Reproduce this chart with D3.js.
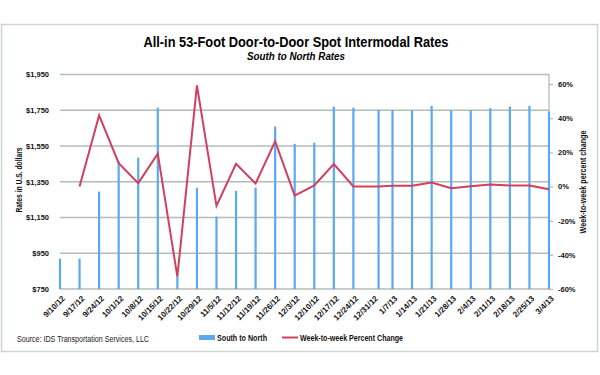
<!DOCTYPE html>
<html>
<head>
<meta charset="utf-8">
<script src="https://cdn.jsdelivr.net/npm/d3@7"></script>
<style>
  body { margin: 0; background: #fff; }
  text { font-family: "Liberation Sans", Arial, sans-serif; }
</style>
</head>
<body>
<div class="chart"></div>
<script>
// weekly spot rates, south to north lane
var dates = ["9/10/12","9/17/12","9/24/12","10/1/12","10/8/12","10/15/12","10/22/12","10/29/12",
  "11/5/12","11/12/12","11/19/12","11/26/12","12/3/12","12/10/12","12/17/12","12/24/12","1/2/13",
  "1/7/13","1/14/13","1/21/13","1/28/13","2/4/13","2/11/13","2/18/13","2/25/13","3/4/13"];
var rates = [920, 920, 1295, 1465, 1485, 1765, 820, 1316, 1155, 1299, 1317, 1659, 1562, 1568,
  1771, 1764, 1753, 1751, 1751, 1775, 1751, 1751, 1762, 1771, 1775, 1743];
var pctChange = [null, 0, 41.6, 13.7, 2, 19.2, -52.8, 59.2, -11.3, 13.3, 1.8, 26.4, -5.3, 0.6,
  13.1, 0, 0, 0.4, 0.4, 2.3, -1, 0.2, 1.2, 0.6, 0.6, -1.6];

var tickLabels = ["9/10/12","9/17/12","9/24/12","10/1/12","10/8/12","10/15/12","10/22/12","10/29/12",
  "11/5/12","11/12/12","11/19/12","11/26/12","12/3/12","12/10/12","12/17/12","12/24/12","12/31/12",
  "1/7/13","1/14/13","1/21/13","1/28/13","2/4/13","2/11/13","2/18/13","2/25/13","3/4/13"];
var rateTicks = [750, 950, 1150, 1350, 1550, 1750, 1950];
var pctTicks = [-60, -40, -20, 0, 20, 40, 60];

var W = 600, H = 375;
var plotL = 60, plotR = 549, plotT = 74.5, plotB = 289;
var gridColor = "#b3bdb8";
var barColor = "#5ba9f2", lineColor = "#d1405e";

var parse = d3.timeParse("%m/%d/%y");

var svg = d3.select(".chart").append("svg")
  .attr("width", W)
  .attr("height", H);

// squeeze text to the width it has in the original (Calibri is narrow)
function fit(sel, w) {
  sel.attr("textLength", w).attr("lengthAdjust", "spacingAndGlyphs");
}

// outer frame
svg.append("rect")
  .attr("x", 1.5).attr("y", 24.5)
  .attr("width", 596).attr("height", 327)
  .attr("fill", "#fff")
  .attr("stroke", "#cdd5d1")
  .attr("stroke-width", 1.5);

var x = d3.scaleTime()
  .domain([parse(tickLabels[0]), parse(tickLabels[tickLabels.length - 1])])
  .range([plotL, plotR]);
var yL = d3.scaleLinear().domain([750, 1950]).range([plotB, plotT]);
var yR = d3.scaleLinear().domain([-60, 60]).range([plotB, 84]);

var data = dates.map(function(d, i) {
  return {date: parse(d), rate: rates[i], pct: pctChange[i]};
});

// gridlines
svg.append("g").selectAll("line").data(rateTicks).enter()
  .append("line")
  .attr("x1", plotL).attr("x2", plotR)
  .attr("y1", function(d) { return yL(d); })
  .attr("y2", function(d) { return yL(d); })
  .attr("stroke", gridColor)
  .attr("stroke-width", 1.3);

svg.append("line")
  .attr("x1", plotR).attr("x2", plotR)
  .attr("y1", plotT).attr("y2", plotB)
  .attr("stroke", gridColor)
  .attr("stroke-width", 1.3);

// left axis
var axL = svg.append("g")
  .attr("transform", "translate(" + plotL + ",0)")
  .call(d3.axisLeft(yL).tickValues(rateTicks).tickSize(0).tickPadding(11)
    .tickFormat(function(d) { return "$" + d3.format(",")(d); }));
axL.select(".domain").remove();
axL.selectAll("text").attr("font-size", 7.5).attr("font-weight", "bold").attr("fill", "#111");

// right axis
var axR = svg.append("g")
  .attr("transform", "translate(" + plotR + ",0)")
  .call(d3.axisRight(yR).tickValues(pctTicks).tickSize(4).tickPadding(5)
    .tickFormat(function(d) { return d + "%"; }));
axR.select(".domain").remove();
axR.selectAll("line").attr("stroke", gridColor).attr("stroke-width", 1.2);
axR.selectAll("text").attr("font-size", 7.5).attr("font-weight", "bold").attr("fill", "#111");

// bottom axis with slanted dates
var axB = svg.append("g")
  .attr("transform", "translate(0," + plotB + ")")
  .call(d3.axisBottom(x).tickValues(tickLabels.map(parse)).tickSize(0)
    .tickFormat(function(d, i) { return tickLabels[i]; }));
axB.select(".domain").remove();
axB.selectAll("text")
  .attr("x", 0).attr("y", 0).attr("dy", "0.35em")
  .attr("text-anchor", "end")
  .attr("transform", "translate(3,8) rotate(-45)")
  .attr("font-size", 8).attr("font-weight", "bold").attr("fill", "#111");

// bars
svg.append("g").selectAll("rect").data(data).enter()
  .append("rect")
  .attr("x", function(d) { return x(d.date) - 1.1; })
  .attr("y", function(d) { return yL(d.rate); })
  .attr("width", 2.2)
  .attr("height", function(d) { return plotB - yL(d.rate); })
  .attr("fill", barColor);

// percent change line
var line = d3.line()
  .defined(function(d) { return d.pct != null; })
  .x(function(d) { return x(d.date); })
  .y(function(d) { return yR(d.pct); });

svg.append("path")
  .datum(data)
  .attr("d", line)
  .attr("fill", "none")
  .attr("stroke", lineColor)
  .attr("stroke-width", 2)
  .attr("stroke-linejoin", "miter");

// titles
svg.append("text")
  .attr("x", 296).attr("y", 46.5)
  .attr("text-anchor", "middle")
  .attr("font-size", 15).attr("font-weight", "bold")
  .attr("fill", "#000")
  .text("All-in 53-Foot Door-to-Door Spot Intermodal Rates")
  .call(fit, 305);

svg.append("text")
  .attr("x", 296).attr("y", 59.5)
  .attr("text-anchor", "middle")
  .attr("font-size", 10.5).attr("font-weight", "bold").attr("font-style", "italic")
  .attr("fill", "#000")
  .text("South to North Rates")
  .call(fit, 98);

svg.append("text")
  .attr("transform", "translate(22,180) rotate(-90)")
  .attr("text-anchor", "middle")
  .attr("font-size", 9).attr("font-weight", "bold")
  .attr("fill", "#111")
  .text("Rates in U.S. dollars")
  .call(fit, 65);

svg.append("text")
  .attr("transform", "translate(586,182) rotate(-90)")
  .attr("text-anchor", "middle")
  .attr("font-size", 8.5).attr("font-weight", "bold")
  .attr("fill", "#111")
  .text("Week-to-week percent change")
  .call(fit, 103);

// source + legend
svg.append("text")
  .attr("x", 17).attr("y", 342)
  .attr("font-size", 8.5)
  .attr("fill", "#222")
  .text("Source: IDS Transportation Services, LLC")
  .call(fit, 132);

svg.append("rect")
  .attr("x", 199).attr("y", 335)
  .attr("width", 16).attr("height", 5)
  .attr("fill", barColor);
svg.append("text")
  .attr("x", 217).attr("y", 341)
  .attr("font-size", 8.5).attr("font-weight", "bold")
  .attr("fill", "#111")
  .text("South to North")
  .call(fit, 50);

svg.append("line")
  .attr("x1", 282).attr("x2", 298)
  .attr("y1", 337.5).attr("y2", 337.5)
  .attr("stroke", lineColor)
  .attr("stroke-width", 2);
svg.append("text")
  .attr("x", 300).attr("y", 341)
  .attr("font-size", 8.5).attr("font-weight", "bold")
  .attr("fill", "#111")
  .text("Week-to-week Percent Change")
  .call(fit, 103);
</script>
</body>
</html>
